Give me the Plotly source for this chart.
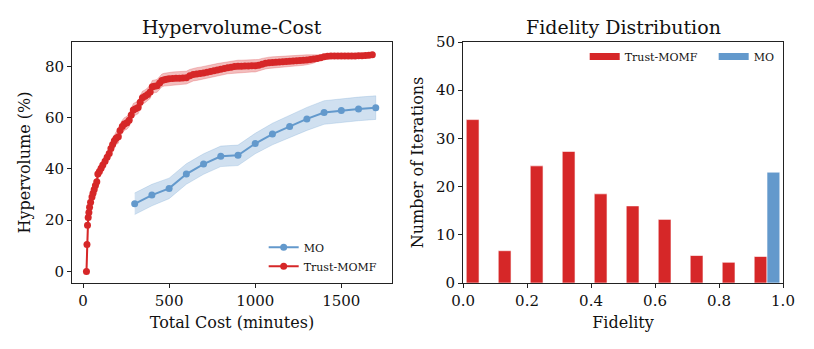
import plotly.graph_objects as go

# Hypervolume-Cost : MO (baseline)
mo_cost = [300, 400, 500, 600, 700, 800, 900, 1000, 1100, 1200, 1300, 1400, 1500, 1600, 1700]
mo_hv = [26.4, 29.8, 32.4, 38.0, 41.9, 44.9, 45.3, 49.9, 53.6, 56.5, 59.5, 62.0, 62.8, 63.4, 63.9]
mo_std = [4.2, 4.2, 4.0, 4.0, 4.0, 4.0, 4.0, 4.0, 4.2, 4.3, 4.5, 4.6, 4.6, 4.6, 4.6]

# Hypervolume-Cost : Trust-MOMF
tm_cost = [20, 23, 26, 30, 34, 38, 44, 52, 58, 65, 72, 80, 86, 95, 105, 115, 128, 140, 152, 162,
           172, 182, 192, 205, 215, 228, 240, 255, 268, 280, 292, 305, 320, 332, 345, 360, 375, 390,
           402, 415, 430, 445, 458, 472, 485, 500, 520, 540, 560, 580, 600, 620, 640, 660, 680, 700,
           720, 740, 760, 780, 800, 820, 840, 860, 880, 900, 920, 940, 960, 980, 1000, 1020, 1040,
           1060, 1080, 1100, 1120, 1140, 1160, 1180, 1200, 1220, 1240, 1260, 1280, 1300, 1320, 1340,
           1360, 1380, 1400, 1420, 1440, 1460, 1480, 1500, 1520, 1540, 1560, 1580, 1600, 1620, 1640,
           1660, 1680]
tm_hv = [0.0, 10.5, 18.0, 21.0, 23.0, 25.0, 27.0, 29.0, 30.5, 32.0, 33.5, 35.0, 38.0, 39.0, 40.3,
         41.5, 43.0, 44.5, 46.0, 48.0, 49.5, 51.0, 52.0, 52.5, 55.0, 56.5, 57.5, 58.0, 59.0, 61.0,
         63.0, 63.5, 64.0, 66.0, 67.8, 68.3, 69.0, 70.0, 72.0, 72.2, 72.4, 73.5, 74.5, 74.8, 75.0,
         75.2, 75.3, 75.4, 75.4, 75.5, 75.6, 76.3, 76.8, 77.0, 77.2, 77.4, 77.7, 78.0, 78.3, 78.6,
         78.9, 79.2, 79.5, 79.7, 79.9, 80.0, 80.0, 80.1, 80.1, 80.2, 80.2, 80.4, 80.8, 81.2, 81.4,
         81.5, 81.6, 81.7, 81.8, 81.9, 82.0, 82.1, 82.2, 82.3, 82.4, 82.5, 82.7, 82.9, 83.1, 83.4,
         83.7, 83.9, 84.0, 84.0, 84.0, 84.0, 84.0, 84.0, 84.0, 84.0, 84.1, 84.1, 84.2, 84.3, 84.5]
tm_std = [0.3, 0.4, 0.5, 0.6, 0.7, 0.8, 0.9, 1.0, 1.0, 1.2, 1.4, 1.5, 1.8, 2.0, 2.0, 2.0, 2.0, 2.2,
          2.2, 2.4, 2.4, 2.5, 2.5, 2.5, 2.5, 2.5, 2.5, 2.5, 2.5, 2.5, 2.5, 2.5, 2.5, 2.5, 2.5, 2.5,
          2.5, 2.5, 2.5, 2.5, 2.5, 2.5, 2.5, 2.5, 2.5, 2.5, 2.5, 2.5, 2.5, 2.5, 2.5, 2.5, 2.5, 2.5,
          2.5, 2.5, 2.5, 2.5, 2.5, 2.5, 2.4, 2.4, 2.4, 2.4, 2.4, 2.4, 2.4, 2.4, 2.4, 2.4, 2.4, 2.3,
          2.3, 2.2, 2.2, 2.2, 2.2, 2.2, 2.2, 2.2, 2.0, 2.0, 2.0, 2.0, 2.0, 2.0, 1.8, 1.6, 1.4, 1.0,
          0.6, 0.4, 0.4, 0.4, 0.4, 0.4, 0.4, 0.4, 0.4, 0.4, 0.4, 0.4, 0.4, 0.4, 0.4]

# Fidelity Distribution (bins of width 0.1)
fid_bins = [0.0, 0.1, 0.2, 0.3, 0.4, 0.5, 0.6, 0.7, 0.8, 0.9]
tm_counts = [33.9, 6.7, 24.3, 27.3, 18.5, 16.0, 13.2, 5.7, 4.3, 5.5]
mo_bins = [0.9]
mo_counts = [23.0]

RED = "#d62728"
BLUE = "#6399cc"
FONT = "DejaVu Serif"


def band(x, m, s, color, xa, ya):
    up = [a + b for a, b in zip(m, s)]
    lo = [a - b for a, b in zip(m, s)]
    return go.Scatter(
        x=x + x[::-1], y=up + lo[::-1], fill="toself", fillcolor=color,
        line=dict(color=color, width=0.8), hoverinfo="skip", showlegend=False,
        xaxis=xa, yaxis=ya,
    )


fig = go.Figure()

# bands
fig.add_trace(band(tm_cost, tm_hv, tm_std, "rgba(214,39,40,0.3)", "x", "y"))
fig.add_trace(band(mo_cost, mo_hv, mo_std, "rgba(99,153,204,0.3)", "x", "y"))

# lines
fig.add_trace(go.Scatter(x=mo_cost, y=mo_hv, mode="lines+markers", name="MO",
                         line=dict(color=BLUE, width=2), marker=dict(size=7, color=BLUE),
                         xaxis="x", yaxis="y", legend="legend"))
fig.add_trace(go.Scatter(x=tm_cost, y=tm_hv, mode="lines+markers", name="Trust-MOMF",
                         line=dict(color=RED, width=2), marker=dict(size=7, color=RED),
                         xaxis="x", yaxis="y", legend="legend"))

# histogram bars
fig.add_trace(go.Bar(x=fid_bins, y=tm_counts, width=0.04, offset=0.01, marker_color=RED,
                     marker_line=dict(color="rgba(255,255,255,0.6)", width=1),
                     showlegend=False, xaxis="x2", yaxis="y2"))
fig.add_trace(go.Bar(x=mo_bins, y=mo_counts, width=0.04, offset=0.05, marker_color=BLUE,
                     marker_line=dict(color="rgba(255,255,255,0.6)", width=1),
                     showlegend=False, xaxis="x2", yaxis="y2"))

# legend patches for the histogram
fig.add_trace(go.Scatter(x=[None], y=[None], mode="lines", name="Trust-MOMF",
                         line=dict(color=RED, width=7), xaxis="x2", yaxis="y2", legend="legend2"))
fig.add_trace(go.Scatter(x=[None], y=[None], mode="lines", name="MO",
                         line=dict(color=BLUE, width=7), xaxis="x2", yaxis="y2", legend="legend3"))

axis_common = dict(
    showline=True, mirror=True, linecolor="#222", linewidth=1, automargin=False,
    ticks="outside", ticklen=4, tickcolor="#222", showgrid=False, zeroline=False,
    tickfont=dict(size=15, color="#111"), title_font=dict(size=16, color="#111"),
)

legend_common = dict(xanchor="left", yanchor="top", bgcolor="rgba(0,0,0,0)",
                     font=dict(size=11), itemwidth=30)

fig.update_layout(
    width=814, height=349,
    # the page body adds 8px on the left and top
    margin=dict(l=64, r=39, t=34, b=74),
    paper_bgcolor="white", plot_bgcolor="white",
    font=dict(family=FONT, color="#111"),
    barmode="overlay",
    xaxis=dict(domain=[0, 0.45], range=[-64, 1794], tickvals=[0, 500, 1000, 1500],
               title=dict(text="Total Cost (minutes)", standoff=7), **axis_common),
    yaxis=dict(range=[-4.5, 89.5], tickvals=[0, 20, 40, 60, 80],
               title=dict(text="Hypervolume (%)", standoff=10), **axis_common),
    xaxis2=dict(domain=[0.55, 1], range=[0, 1], dtick=0.2, tickformat=".1f", anchor="y2",
                title=dict(text="Fidelity", standoff=7), **axis_common),
    yaxis2=dict(range=[0, 50], dtick=10, anchor="x2",
                title=dict(text="Number of Iterations", standoff=8), **axis_common),
    legend=dict(x=0.2696, y=0.208, tracegroupgap=0, **legend_common),
    legend2=dict(x=0.7211, y=1.0, **legend_common),
    legend3=dict(x=0.9025, y=1.0, **legend_common),
    annotations=[
        dict(text="Hypervolume-Cost", x=0.225, y=1, xref="paper", yref="paper",
             xanchor="center", yanchor="bottom", yshift=2, showarrow=False,
             font=dict(size=19, family=FONT, color="#111")),
        dict(text="Fidelity Distribution", x=0.775, y=1, xref="paper", yref="paper",
             xanchor="center", yanchor="bottom", yshift=2, showarrow=False,
             font=dict(size=19, family=FONT, color="#111")),
    ],
)

fig.write_html("out.html")
